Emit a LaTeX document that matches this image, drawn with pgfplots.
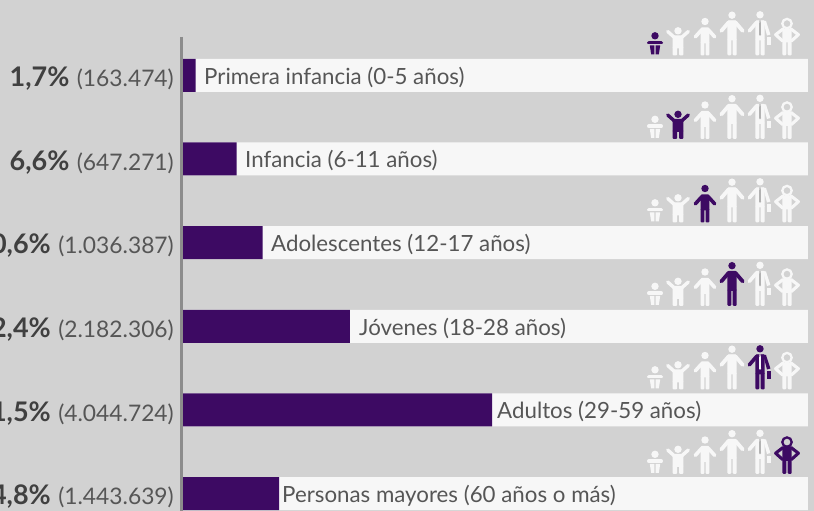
\documentclass[border=0pt]{standalone}
\usepackage{pgfplots}
\pgfplotsset{compat=1.18}
\usepackage{fontspec}
\setmainfont{Lato}
\definecolor{bgc}{HTML}{D2D2D2}
\definecolor{trk}{HTML}{F7F7F7}
\definecolor{pur}{HTML}{3D0A63}
\definecolor{txa}{HTML}{404040}
\definecolor{txb}{HTML}{565656}
\definecolor{axl}{HTML}{8C8C8C}
\newcommand\legs[1]{%
  \fill[rounded corners=1.2pt] (-4.7,#1) rectangle (-0.7,0);
  \fill[rounded corners=1.2pt] (0.7,#1) rectangle (4.7,0);}
\newcommand\iconbaby{%
  \fill (0,-19.7) circle (3.7);
  \draw[line width=3.6pt,line cap=round] (-6.2,-12.8) -- (6.2,-12.8);
  \fill (-5.2,-10) -- (-0.6,-10) -- (-0.6,-1) -- (-3.8,-1) -- cycle;
  \fill (5.2,-10) -- (0.6,-10) -- (0.6,-1) -- (3.8,-1) -- cycle;}
\newcommand\iconchild{%
  \fill (0,-24.7) circle (3.7);
  \draw[line width=3.4pt,line cap=round] (-10.3,-24) -- (-4,-18.4);
  \draw[line width=3.4pt,line cap=round] (10.3,-24) -- (4,-18.4);
  \fill[rounded corners=1pt] (-5.3,-20) rectangle (5.3,-7);
  \fill[rounded corners=1pt] (-5.3,-9) rectangle (-1,0);
  \fill[rounded corners=1pt] (1,-9) rectangle (5.3,0);}
\newcommand\iconkid{%
  \fill (0,-34) circle (3.7);
  \draw[line width=3.6pt,line cap=round,line join=round] (-9.7,-18.6) -- (-3.5,-25.5) -- (3.5,-25.5) -- (9.7,-18.6);
  \fill[rounded corners=1pt] (-4.3,-28) rectangle (4.3,-12);
  \fill[rounded corners=1pt] (-4.3,-14) rectangle (-0.7,0);
  \fill[rounded corners=1pt] (0.7,-14) rectangle (4.3,0);}
\newcommand\iconteen{%
  \fill (0,-40.3) circle (3.7);
  \draw[line width=3.8pt,line cap=round,line join=round] (-10.7,-24.6) -- (-3.5,-33) -- (3.5,-33) -- (10.7,-24.6);
  \fill[rounded corners=1pt] (-4.7,-35) rectangle (4.7,-15);
  \legs{-17}}
\newcommand\iconadult[1]{%
  \fill (0,-40.7) circle (3.7);
  \draw[line width=3.6pt,line cap=round,line join=round] (-10.7,-24.6) -- (-3.5,-33) -- (3.5,-33);
  \fill (3,-35) -- (6,-34.5) -- (10.4,-21) -- (7,-20) -- cycle;
  \fill[rounded corners=1pt] (-4.7,-35) rectangle (4.7,-15);
  \legs{-17}
  \fill (7.4,-18.4) rectangle (10.9,-10.7);
  \fill[#1] (-0.7,-35) -- (0.7,-35) -- (1,-21) -- (0,-19.5) -- (-1,-21) -- cycle;}
\newcommand\iconelder[1]{%
  \draw[line width=2.3pt] (0,-31.9) circle (4.7);
  \fill[rounded corners=1pt] (-4.7,-27) rectangle (4.7,-13);
  \draw[line width=3.1pt,line join=round,line cap=round] (-4,-26.5) -- (-11.4,-20.8) -- (-4.5,-14.6);
  \draw[line width=3.1pt,line join=round,line cap=round] (4,-26.5) -- (11.4,-20.8) -- (4.5,-14.6);
  \legs{-15}}
\newcommand\iconrow[2]{%
  \begin{scope}[yshift=-#1pt]
   \foreach \i/\xx in {1/655,2/678,3/705,4/732,5/760,6/787}{
    \ifnum\i=#2\relax\colorlet{cc}{pur}\colorlet{cd}{trk}\else\colorlet{cc}{trk}\colorlet{cd}{bgc!85!black}\fi
    \begin{scope}[xshift=\xx pt,x=1pt,y=-1pt,color=cc,fill=cc,draw=cc]
      \ifcase\i\or\iconbaby\or\iconchild\or\iconkid\or\iconteen\or\iconadult{cd}\or\iconelder{cd}\fi
    \end{scope}}
  \end{scope}}
\newcommand\lab[3]{%
  \node[anchor=base east,inner sep=0pt,text=txb] at (174pt,-#1pt-11.3pt) {{\fontsize{27}{30}\selectfont\bfseries\color{txa}#2}\hspace{7.5pt}{\fontsize{22.8}{26}\selectfont(#3)}};}
\newcommand\cat[3]{\node[anchor=base west,inner sep=0pt,text=txb] at (#1pt,-#2pt-8.8pt) {\fontsize{22.3}{26}\selectfont #3};}
\begin{document}
\begin{tikzpicture}[x=1pt,y=1pt]
\useasboundingbox (0,0) rectangle (814,511);
\clip (0,0) rectangle (814,511);
\fill[bgc] (0,0) rectangle (814,511);
\begin{axis}[at={(0pt,0pt)},anchor=south west,scale only axis,width=814pt,height=511pt,
  hide axis,xmin=-24.564,xmax=84.698,ymin=-0.9002,ymax=5.2086,y dir=reverse,
  xbar,bar width=33pt,bar shift=0pt]
\addplot[fill=trk,draw=none] coordinates {(83.89,0)(83.89,1)(83.89,2)(83.89,3)(83.89,4)(83.89,5)};
\addplot[fill=pur,draw=none] coordinates {(1.7,0)(7.2,1)(10.7,2)(22.4,3)(41.5,4)(12.9,5)};
\end{axis}
\begin{scope}[yshift=511pt]
\draw[axl,line width=3pt] (181.6,-37) -- (181.6,-511);
\lab{75.3}{1,7\%}{163.474}
\lab{159}{6,6\%}{647.271}
\lab{242.6}{10,6\%}{1.036.387}
\lab{326.3}{22,4\%}{2.182.306}
\lab{410}{41,5\%}{4.044.724}
\lab{493.6}{14,8\%}{1.443.639}
\cat{204}{75.3}{Primera infancia (0-5 años)}
\cat{245}{159}{Infancia (6-11 años)}
\cat{271}{242.6}{Adolescentes (12-17 años)}
\cat{359}{326.3}{Jóvenes (18-28 años)}
\cat{497}{410}{Adultos (29-59 años)}
\cat{282}{493.6}{Personas mayores (60 años o más)}
\iconrow{55.5}{1}
\iconrow{139}{2}
\iconrow{222.5}{3}
\iconrow{306}{4}
\iconrow{389.5}{5}
\iconrow{474}{6}
\end{scope}
\end{tikzpicture}
\end{document}
